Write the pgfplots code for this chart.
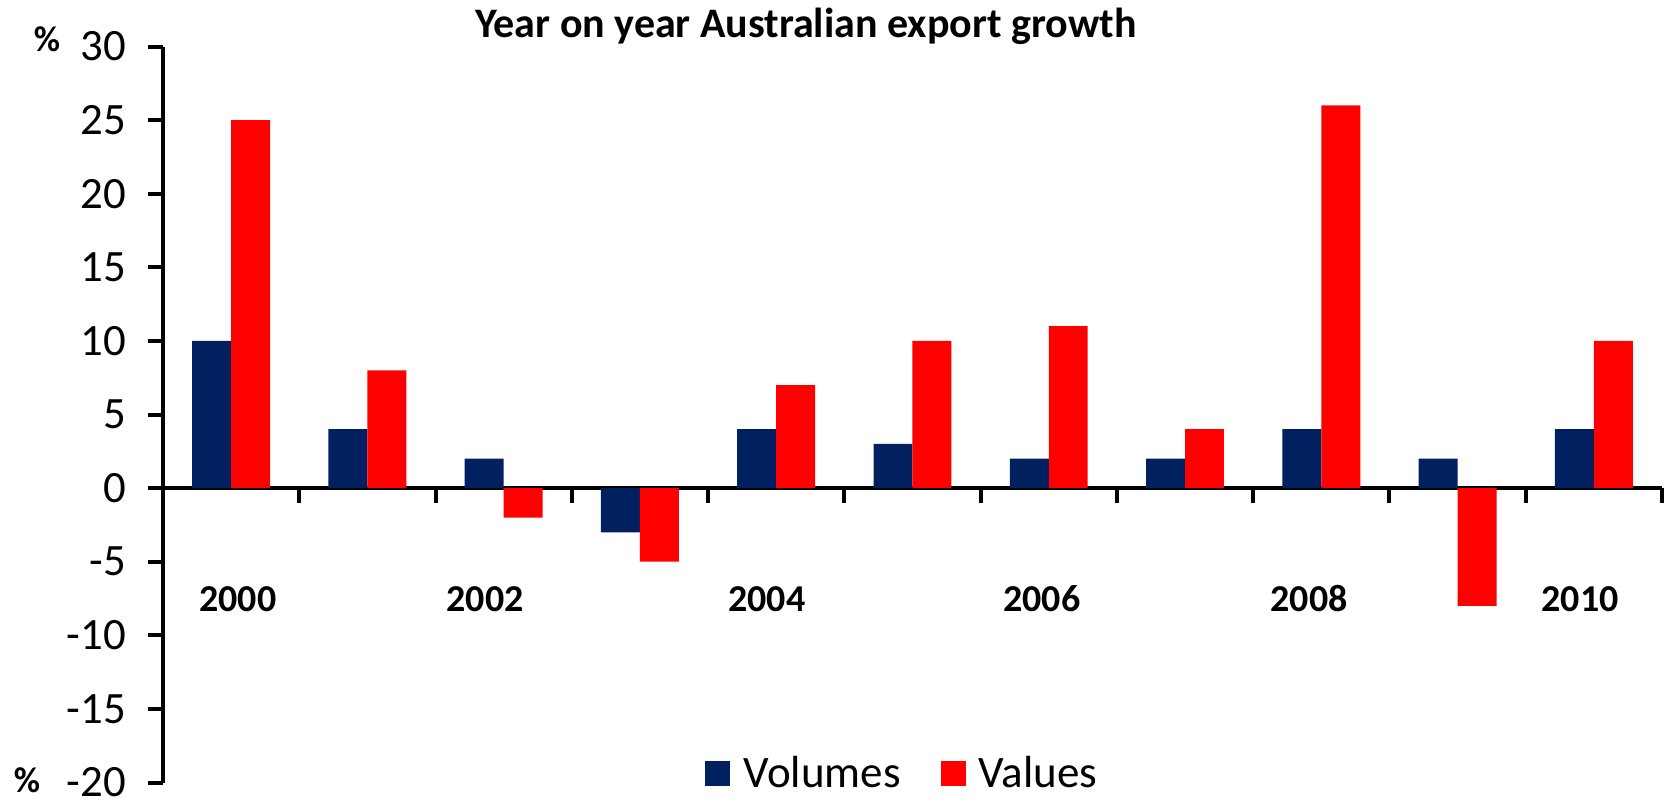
\documentclass[border=0pt]{standalone}
\usepackage{fontspec}
\setmainfont{Carlito}
\usepackage{pgfplots}
\usepackage{pgfplotstable}
\pgfplotsset{compat=1.18}
\definecolor{volnavy}{HTML}{002060}
\definecolor{valred}{HTML}{FF0000}

% year index, volumes growth, values growth (%)
\pgfplotstableread{
x vol val
0 10 25
1 4 8
2 2 -2
3 -3 -5
4 4 7
5 3 10
6 2 11
7 2 4
8 4 26
9 2 -8
10 4 10
}\growth

\begin{document}
\begin{tikzpicture}
\begin{axis}[
    scale only axis,
    width=749.5bp, height=368bp,
    xmin=-0.5, xmax=10.5, ymin=-20, ymax=30,
    ytick={-20,-15,...,30},
    xtick={0.5,1.5,...,10.5}, xticklabels={},
    axis x line=middle, axis y line=left,
    axis line style={-, line width=2bp, black},
    x axis line style={-}, y axis line style={-},
    tick style={line width=2bp, black},
    major tick length=7.5bp,
    tick align=outside,
    hide obscured x ticks=false, hide obscured y ticks=false,
    ybar=0pt, bar width=0.286,
    clip=false,
    /pgf/number format/assume math mode=true,
    yticklabel style={font=\fontsize{22.4bp}{26bp}\selectfont, xshift=-7.5bp},
    legend columns=2,
    legend style={at={(0.3616,0.0122)}, anchor=west, draw=none, fill=none,
        inner sep=0pt, nodes={inner sep=0pt},
        font=\fontsize{22.5bp}{27bp}\selectfont,
        /tikz/every odd column/.append style={column sep=6.5bp},
        /tikz/every even column/.append style={column sep=20bp}},
    legend image code/.code={\fill[#1] (0bp,-6bp) rectangle (12.5bp,6.5bp);},
]
\addplot[fill=volnavy, draw=none] table[x=x, y=vol] {\growth};
\addlegendentry{Volumes}
\addplot[fill=valred, draw=none] table[x=x, y=val] {\growth};
\addlegendentry{Values}

\path (axis cs:-1.696,-21.25) rectangle (axis cs:10.559,33.16);

\node[anchor=base, font=\bfseries\fontsize{21bp}{25bp}\selectfont]
    at (axis cs:4.218,30.6) {Year on year Australian export growth};
\node[anchor=base, font=\bfseries\fontsize{18bp}{22bp}\selectfont]
    at (axis cs:-1.351,29.63) {\%};
\node[anchor=base, font=\bfseries\fontsize{18bp}{22bp}\selectfont]
    at (axis cs:-1.498,-20.67) {\%};

\begin{scope}[every node/.style={anchor=base, font=\bfseries\fontsize{19bp}{23bp}\selectfont}]
\node at (axis cs:0.050,-8.38) {2000};
\node at (axis cs:1.863,-8.38) {2002};
\node at (axis cs:3.932,-8.38) {2004};
\node at (axis cs:5.950,-8.38) {2006};
\node at (axis cs:7.910,-8.38) {2008};
\node at (axis cs:9.899,-8.38) {2010};
\end{scope}
\end{axis}
\end{tikzpicture}
\end{document}
